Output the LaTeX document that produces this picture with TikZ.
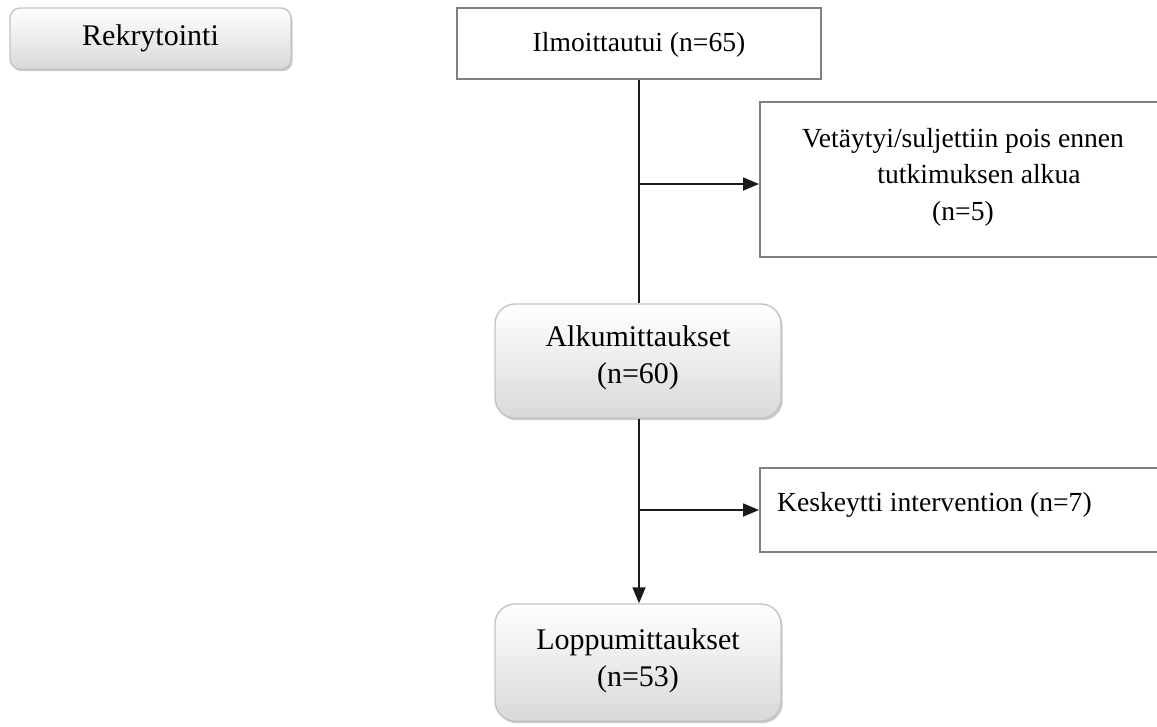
\documentclass[tikz,border=0pt]{standalone}
\usepackage{fontspec}
\setmainfont{Liberation Serif}
\usetikzlibrary{arrows.meta,shadows}
\definecolor{bordergray}{HTML}{808080}
\definecolor{softborder}{HTML}{C4C4C4}
\definecolor{linecol}{HTML}{1A1A1A}
\tikzset{
  plainbox/.style={draw=bordergray, line width=1.6pt, fill=white, inner sep=0pt},
  softbox/.style={draw=softborder, line width=1.4pt, rounded corners=#1, top color=white, bottom color=black!15, inner sep=0pt,
    drop shadow={shadow xshift=1.6pt, shadow yshift=-2.2pt, opacity=0.35, fill=black!60}},
  rtext/.style={font=\fontsize{27.6}{36.5}\selectfont, inner sep=0pt, align=center},
  stext/.style={font=\fontsize{30}{37}\selectfont, inner sep=0pt, align=center},
  conn/.style={draw=linecol, line width=1.8pt},
  arr/.style={conn, -{Triangle[length=16pt,width=13pt]}},
}
\begin{document}
\begin{tikzpicture}[x=1pt,y=-1pt]
\useasboundingbox (0,0) rectangle (1157,726);
\clip (0,0) rectangle (1157,726);
% Rekrytointi
\node[softbox=10pt, minimum width=281pt, minimum height=61pt] (rek) at (150.5,38.5) {};
\node[stext] (rektext) at (150.5,38) {Rekrytointi};
% Ilmoittautui
\node[plainbox, minimum width=364pt, minimum height=71pt] (ilm) at (639,43.5) {};
\node[rtext] (ilmtext) at (639,45) {Ilmoittautui (n=65)};
% Vetaytyi
\node[plainbox, minimum width=420pt, minimum height=155pt, anchor=north west] (vet) at (759,101) {};
\node[rtext] (vettext) at (963,177) {Vetäytyi/suljettiin pois ennen\\\hspace*{32pt}tutkimuksen alkua\\(n=5)};
% Alkumittaukset
\node[softbox=20pt, minimum width=286pt, minimum height=114pt] (alk) at (638,361) {};
\node[stext] (alktext) at (638,358) {Alkumittaukset\\(n=60)};
% Keskeytti
\node[plainbox, minimum width=420pt, minimum height=84pt, anchor=north west] (kes) at (759,467) {};
\node[rtext, anchor=west] (kestext) at (777,505) {Keskeytti intervention (n=7)};
% Loppumittaukset
\node[softbox=20pt, minimum width=286pt, minimum height=117pt] (lop) at (638,662.5) {};
\node[stext] (loptext) at (638,661) {Loppumittaukset\\(n=53)};
% connectors
\coordinate (b1) at (639,184);
\coordinate (b2) at (639,510);
\draw[conn] (ilm.south -| b1) -- (alk.north -| b1);
\draw[arr] (b1) -- (b1 -| vet.west);
\draw[arr] (alk.south -| b2) -- (lop.north -| b2);
\draw[arr] (b2) -- (b2 -| kes.west);
\end{tikzpicture}
\end{document}
